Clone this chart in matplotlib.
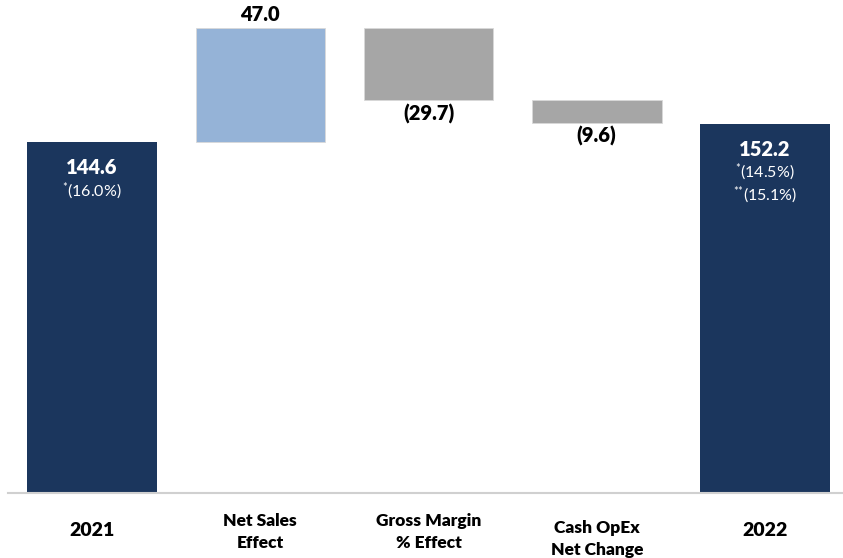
import matplotlib
matplotlib.use("Agg")
import matplotlib.pyplot as plt
from matplotlib import transforms

plt.rcParams['font.family'] = ['Lato', 'DejaVu Sans']
plt.rcParams['mathtext.fontset'] = 'custom'
plt.rcParams['mathtext.rm'] = 'Lato'
plt.rcParams['mathtext.it'] = 'Lato'

categories = ["2021", "Net Sales\nEffect", "Gross Margin\n% Effect", "Cash OpEx\nNet Change", "2022"]
start_value = 144.6
changes = [47.0, -29.7, -9.6]
end_value = 152.2
value_labels = ["144.6", "47.0", "(29.7)", "(9.6)", "152.2"]
margin_2021 = ["$^{{*}}$(16.0%)"]
margin_2022 = ["$^{{*}}$(14.5%)", "$^{{*}{*}}$(15.1%)"]

navy = "#1B365D"
light_blue = "#95B3D7"
gray = "#A6A6A6"

fig = plt.figure(figsize=(8.43, 5.58), dpi=100)
ax = fig.add_axes([8/843, 65/558, 835/843, 493/558])
ax.set_xlim(-0.5, 4.464)
ax.set_ylim(0, 203.1)
w = 0.77

# totals
ax.bar(0, start_value, width=w, color=navy)
ax.bar(4, end_value, width=w, color=navy)
# changes
level = start_value
cols = [light_blue, gray, gray]
tops = []
for i, (c, col) in enumerate(zip(changes, cols), start=1):
    bottom = level if c > 0 else level + c
    ax.bar(i, abs(c), bottom=bottom, width=w, color=col, edgecolor="#D9D9D9", linewidth=0.6)
    tops.append((bottom, bottom + abs(c)))
    level += c

for s in ["top", "right", "left"]:
    ax.spines[s].set_visible(False)
ax.spines["bottom"].set_color("#D0D0D0")
ax.spines["bottom"].set_linewidth(1.5)
ax.set_xticks([])
ax.set_yticks([])

pt = 72 / 100  # px to points
vw = "heavy"
# value labels
ax.annotate(value_labels[0], (0, start_value), xytext=(0, -25 * pt), textcoords="offset points",
            ha="center", va="center", color="white", fontsize=14.5, fontweight=vw)
ax.annotate(margin_2021[0], (0, start_value), xytext=(0, -49 * pt), textcoords="offset points",
            ha="center", va="center", color="white", fontsize=11.5)
ax.annotate(value_labels[1], (1, tops[0][1]), xytext=(0, 13 * pt), textcoords="offset points",
            ha="center", va="center", color="black", fontsize=14.5, fontweight=vw)
ax.annotate(value_labels[2], (2, tops[1][0]), xytext=(0, -14 * pt), textcoords="offset points",
            ha="center", va="center", color="black", fontsize=14.5, fontweight=vw)
ax.annotate(value_labels[3], (3, tops[2][0]), xytext=(0, -13 * pt), textcoords="offset points",
            ha="center", va="center", color="black", fontsize=14.5, fontweight=vw)
ax.annotate(value_labels[4], (4, end_value), xytext=(0, -26 * pt), textcoords="offset points",
            ha="center", va="center", color="white", fontsize=14.5, fontweight=vw)
for k, t in enumerate(margin_2022):
    ax.annotate(t, (4, end_value), xytext=(0, (-49 - 23 * k) * pt), textcoords="offset points",
                ha="center", va="center", color="white", fontsize=11.5)

# category labels
trans = transforms.blended_transform_factory(ax.transData, fig.transFigure)
label_y = [530, 532, 532, 539, 530]
for i, (cat, yp) in enumerate(zip(categories, label_y)):
    big = "\n" not in cat
    ax.text(i, 1 - yp / 558, cat, transform=trans, ha="center", va="center",
            fontsize=14 if big else 12.5, fontweight=vw, color="black", linespacing=1.45)

fig.savefig("out.png", dpi=100)
